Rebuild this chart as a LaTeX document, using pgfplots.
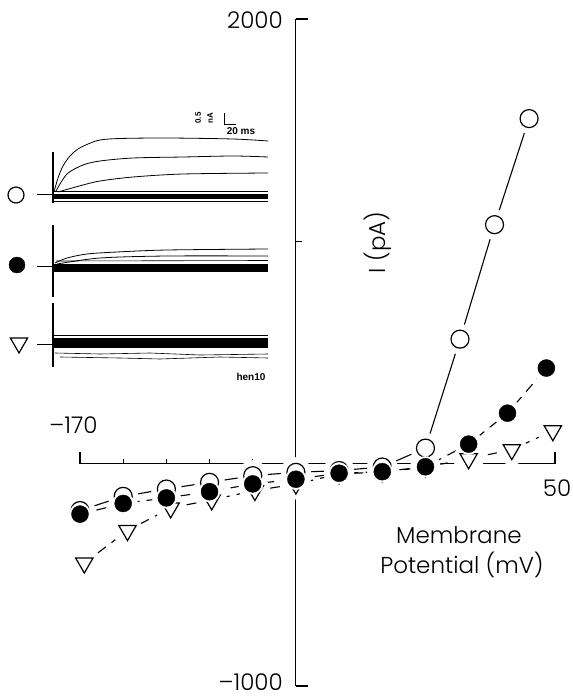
\documentclass[border=0pt]{standalone}
\usepackage{pgfplots}
\usepackage{pgfplotstable}
\pgfplotsset{compat=1.18}
\usepackage{fontspec}
\setmainfont{Poppins Light}
\newfontfamily\smallfont{Liberation Sans}
\newcommand\lab{\fontsize{23}{26}\selectfont}

\pgfplotstableread{
x y
-170 -211
-150 -147
-130 -114
-110 -84
-90 -54
-70 -39
-50 -31
-30 -15
-10 70
6 560
22 1075
38 1552
}\opendata

\pgfplotstableread{
x y
-170 -227
-150 -179
-130 -154
-110 -126
-90 -91
-70 -70
-50 -43
-30 -36
-10 -14
10 88
28 227
46 430
}\filldata

\pgfplotstableread{
x y
-168 -447
-148 -301
-128 -199
-109 -163
-89 -121
-70 -92
-50 -46
-30 -38
-10 -16
10 22
30 63
49 148
}\tridata

\begin{document}
\begin{tikzpicture}
\useasboundingbox (0pt,0pt) rectangle (573pt,697pt);

% ---------- inset with current traces (pixel coordinates) ----------
\begin{axis}[at={(0pt,0pt)}, anchor=south west, scale only axis,
  width=573pt, height=697pt, xmin=0, xmax=573, ymin=0, ymax=697,
  y dir=reverse, hide axis, clip=false]
% open circle group
\addplot[black, line width=0.8pt, mark=none] coordinates {(37,194) (53,194)};
\addplot[black, line width=1.4pt, mark=none] coordinates {(53,152) (53,203)};
\addplot[black, line width=0.8pt, smooth, mark=none] coordinates {(54,192) (58,178) (63,166) (70,156) (78,149) (88,144) (100,140) (120,138.5) (167,138) (233,139) (268,141)};
\addplot[black, line width=0.8pt, smooth, mark=none] coordinates {(56,191) (67,174) (83,165) (100,161) (133,158) (183,157) (233,156) (268,157)};
\addplot[black, line width=0.8pt, smooth, mark=none] coordinates {(58,192) (83,185) (100,181) (133,177) (183,174) (268,173)};
\addplot[black, line width=5pt, mark=none] coordinates {(54,196) (268,196)};
\addplot[black, line width=0.6pt, mark=none] coordinates {(54,191.5) (268,191.5)};
\addplot[black, line width=0.6pt, mark=none] coordinates {(54,201.5) (268,201.5)};
% filled circle group
\addplot[black, line width=0.8pt, mark=none] coordinates {(37,266) (53,266)};
\addplot[black, line width=1.4pt, mark=none] coordinates {(53,225) (53,297)};
\addplot[black, line width=0.8pt, smooth, mark=none] coordinates {(55,263) (67,258) (87,254) (117,252) (167,250) (268,249)};
\addplot[black, line width=0.8pt, smooth, mark=none] coordinates {(57,264) (100,258) (167,256) (268,256)};
\addplot[black, line width=0.6pt, mark=none] coordinates {(56,261) (268,260.5)};
\addplot[black, line width=8pt, mark=none] coordinates {(54,267.5) (268,267.5)};
% triangle group
\addplot[black, line width=0.8pt, mark=none] coordinates {(37,344) (53,344)};
\addplot[black, line width=1.4pt, mark=none] coordinates {(53,303) (53,367)};
\addplot[black, line width=0.6pt, mark=none] coordinates {(54,335.5) (268,335.5)};
\addplot[black, line width=10pt, mark=none] coordinates {(54,342.5) (268,342.5)};
\addplot[black, line width=0.6pt, mark=none] coordinates {(55,353) (100,354) (150,353) (200,355) (268,354)};
\addplot[black, line width=0.6pt, mark=none] coordinates {(60,357) (120,358) (160,359) (220,357) (268,358)};
% symbols
\addplot[black, only marks, mark=*, mark size=8pt, mark options={fill=white, draw=black, line width=1.2pt}] coordinates {(16,195)};
\addplot[black, only marks, mark=*, mark size=8pt, mark options={fill=black, draw=black}] coordinates {(17,265)};
\addplot[black, only marks, mark=triangle, mark size=10pt, mark options={rotate=180, fill=white, draw=black, line width=1.2pt}] coordinates {(19,343)};
% scale bar
\draw[line width=0.8pt] (axis cs:224,113) -- (axis cs:224,124) -- (axis cs:236,124);
\node[rotate=90, font=\smallfont\bfseries\fontsize{8}{9}\selectfont] at (axis cs:198,118) {0.5};
\node[rotate=90, font=\smallfont\bfseries\fontsize{8}{9}\selectfont] at (axis cs:210,118) {nA};
\node[font=\smallfont\bfseries\fontsize{10}{11}\selectfont] at (axis cs:241,131) {20 ms};
\node[font=\smallfont\bfseries\fontsize{10}{11}\selectfont] at (axis cs:251,377) {hen10};
\end{axis}

% ---------- main I-V plot ----------
\begin{axis}[at={(80pt,11pt)}, anchor=south west, scale only axis,
  width=475pt, height=667pt, xmin=-170, xmax=50, ymin=-1000, ymax=2000,
  hide axis, clip=false]
% connecting lines
\addplot[black, line width=1.1pt, mark=none] table {\opendata};
\addplot[black, line width=1.1pt, mark=none, dash pattern=on 10pt off 7pt] table {\filldata};
\addplot[black, line width=1.1pt, mark=none, dash pattern=on 10pt off 7pt] table {\tridata};
% white gaps around markers
\addplot[white, only marks, mark=*, mark size=15pt, mark options={draw=white, fill=white}] table {\tridata};
\addplot[white, only marks, mark=*, mark size=15pt, mark options={draw=white, fill=white}] table {\opendata};
\addplot[white, only marks, mark=*, mark size=14pt, mark options={draw=white, fill=white}] table {\filldata};
% markers
\addplot[black, only marks, mark=triangle, mark size=10pt, mark options={rotate=180, fill=white, draw=black, line width=1.2pt}] table {\tridata};
\addplot[black, only marks, mark=*, mark size=9pt, mark options={fill=white, draw=black, line width=1.2pt}] table {\opendata};
\addplot[white, only marks, mark=*, mark size=10.5pt, mark options={fill=white, draw=white}] table {\filldata};
\addplot[black, only marks, mark=*, mark size=8.5pt, mark options={fill=black, draw=black}] table {\filldata};
% axes
\draw[line width=1.1pt] (axis cs:-170,0) -- (axis cs:50,0);
\draw[line width=1.1pt] (axis cs:-70,-1000) -- (axis cs:-70,2000);
\draw[line width=1.1pt] (axis cs:-170,0) -- ++(0pt,12pt);
\draw[line width=1.1pt] (axis cs:50,0) -- ++(0pt,12pt);
\pgfplotsinvokeforeach{-150,-130,-110,-90,-50,-30,-10,10,30}{
  \draw[line width=1.1pt] (axis cs:#1,0) -- ++(0pt,5pt);
}
\draw[line width=1.1pt] (axis cs:-70,2000) -- ++(12pt,0pt);
\draw[line width=1.1pt] (axis cs:-70,1000) -- ++(6pt,0pt);
\draw[line width=1.1pt] (axis cs:-70,-1000) -- ++(12pt,0pt);
% labels
\node[anchor=east, font=\lab, inner sep=0pt] at (axis cs:-76,1995) {2000};
\node[anchor=east, font=\lab, inner sep=0pt] at (axis cs:-76,-982) {–1000};
\node[font=\lab, inner sep=0pt] at (axis cs:-173,174) {–170};
\node[font=\lab, inner sep=0pt] at (axis cs:51,-109) {50};
\node[font=\lab, inner sep=0pt] at (axis cs:5.5,-321) {Membrane};
\node[font=\lab, inner sep=0pt] at (axis cs:6.9,-456) {Potential (mV)};
\node[font=\lab, inner sep=0pt, rotate=90] at (axis cs:-32,995) {I (pA)};
\end{axis}
\end{tikzpicture}
\end{document}
